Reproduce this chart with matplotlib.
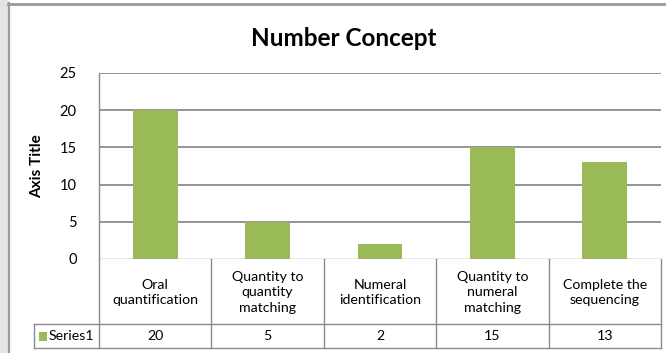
import matplotlib
matplotlib.use("Agg")
import matplotlib.pyplot as plt
import matplotlib.transforms as mtransforms
from matplotlib.patches import Rectangle
from matplotlib.lines import Line2D

plt.rcParams['font.family'] = ['Lato', 'DejaVu Sans']

categories = ["Oral\nquantification", "Quantity to\nquantity\nmatching",
              "Numeral\nidentification", "Quantity to\nnumeral\nmatching",
              "Complete the\nsequencing"]
values = [20, 5, 2, 15, 13]
series_name = "Series1"
yticks = [0, 5, 10, 15, 20, 25]
title = "Number Concept"
y_label = "Axis Title"

W, H = 666, 353
BAR = "#9BBB59"
GRID = "#8c8c8c"
TXT = "#000000"
FS = 10.2

fig = plt.figure(figsize=(W / 100, H / 100), dpi=100)
fig.patch.set_facecolor("white")

def fx(px):
    return px / W

def fy(py):
    return 1 - py / H

# outer frame: left strip, left edge and top edge
fig.patches.append(Rectangle((0, 0), fx(8), 1, transform=fig.transFigure,
                             facecolor="#e4e4e4", edgecolor="none", zorder=0))
fig.lines.append(Line2D([fx(8.5), fx(8.5)], [0, fy(3)], transform=fig.transFigure,
                        color="#9a9a9a", lw=1.6))
fig.lines.append(Line2D([fx(8), 1], [fy(4), fy(4)], transform=fig.transFigure,
                        color="#9a9a9a", lw=2.0))

left, right, top, bottom = 99, 661, 73, 259
ax = fig.add_axes([fx(left), fy(bottom), fx(right) - fx(left), fy(top) - fy(bottom)])
x = list(range(len(categories)))
ax.bar(x, values, width=0.4, color=BAR, zorder=3)
ax.set_xlim(-0.5, len(categories) - 0.5)
ax.set_ylim(0, 25)
ax.set_yticks(yticks)
ax.set_yticklabels([str(t) for t in yticks], fontsize=FS + 0.3, color=TXT)
ax.tick_params(axis="y", length=0, pad=16)
ax.set_xticks([])
for s in ["top", "right", "bottom"]:
    ax.spines[s].set_visible(False)
ax.spines["left"].set_color(GRID)
ax.spines["left"].set_linewidth(1.0)
for t in yticks[1:]:
    ax.axhline(t, color=GRID, lw=1.3, zorder=1)
ax.axhline(0, color=GRID, lw=1.0, zorder=4)

fig.text(fx(344), fy(38), title, ha="center", va="center",
         fontsize=17.5, fontweight="bold", color=TXT)
fig.text(fx(37), fy(166), y_label, ha="center", va="center", rotation=90,
         fontsize=11, fontweight="bold", color=TXT)

# data table under the axis
blend = mtransforms.blended_transform_factory(ax.transData, fig.transFigure)
row_mid, row_bot = 324, 348
edges = [i - 0.5 for i in range(len(categories) + 1)]
for e in edges:
    fig.lines.append(Line2D([e, e], [fy(bottom), fy(row_bot)], transform=blend,
                            color=GRID, lw=1.0))
fig.lines.append(Line2D([fx(34), fx(right)], [fy(row_mid), fy(row_mid)],
                        transform=fig.transFigure, color=GRID, lw=1.0))
fig.lines.append(Line2D([fx(34), fx(right)], [fy(row_bot), fy(row_bot)],
                        transform=fig.transFigure, color=GRID, lw=1.0))
fig.lines.append(Line2D([fx(34), fx(34)], [fy(row_mid), fy(row_bot)],
                        transform=fig.transFigure, color=GRID, lw=1.0))

for i, (c, v) in enumerate(zip(categories, values)):
    fig.text(i, fy((bottom + row_mid) / 2 + 1), c, transform=blend, ha="center",
             va="center", fontsize=FS, color=TXT, linespacing=1.35)
    fig.text(i, fy((row_mid + row_bot) / 2), str(v), transform=blend, ha="center",
             va="center", fontsize=FS, color=TXT)

fig.patches.append(Rectangle((fx(39), fy(341)), fx(8), fy(332) - fy(341),
                             transform=fig.transFigure, facecolor=BAR, edgecolor="none"))
fig.text(fx(49), fy(336), series_name, ha="left", va="center", fontsize=FS, color=TXT)

fig.savefig("out.png", dpi=100, facecolor="white")
